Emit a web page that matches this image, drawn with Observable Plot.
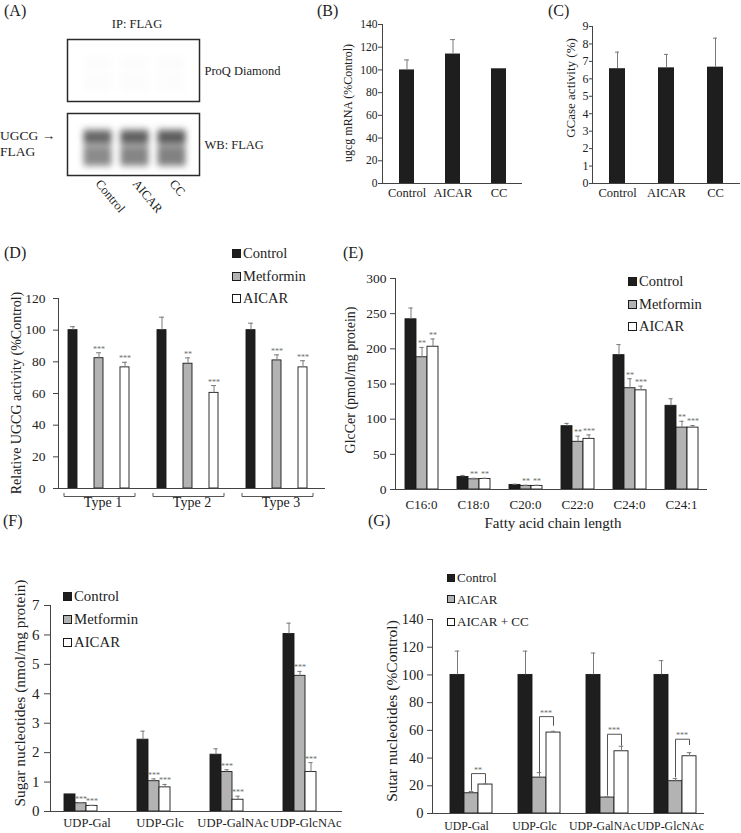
<!DOCTYPE html>
<html><head><meta charset="utf-8">
<script src="https://cdn.jsdelivr.net/npm/d3@7"></script>
<script src="https://cdn.jsdelivr.net/npm/@observablehq/plot@0.6"></script>
<style>
body{margin:0;background:#fff;}
#fig{position:relative;width:741px;height:833px;background:#fff;font-family:"Liberation Serif","Times New Roman",serif;color:#222;overflow:hidden}
svg{overflow:visible}
</style></head><body><div id="fig"></div>
<script>
// ================= DATA =================
// (A) blot
const lanes = ["Control", "AICAR", "CC"];
const blotRows = ["ProQ Diamond", "WB: FLAG"];
const laneSignal = [0.88, 0.93, 0.97];
const proqSignal = [0.008, 0.006, 0.008];
const bandNames = ["diffuse", "UGCG-FLAG", "lower smear"];
const bandFrom = [0.25, 0.3, 0.56];
const bandTo = [0.86, 0.48, 0.83];
const bandDensity = [0.42, 0.62, 0.3];

// (B)
const bCategories = ["Control", "AICAR", "CC"];
const bValues = [100, 114, 101];
const bErrors = [8.8, 12.7, 0];
const bTicks = [0, 20, 40, 60, 80, 100, 120, 140];

// (C)
const cCategories = ["Control", "AICAR", "CC"];
const cValues = [6.58, 6.63, 6.67];
const cErrors = [0.95, 0.77, 1.66];
const cTicks = [0, 1, 2, 3, 4, 5, 6, 7, 8, 9];

// (D)
const dGroups = ["Type 1", "Type 2", "Type 3"];
const dSeries = ["Control", "Metformin", "AICAR"];
const dControl = [100, 100, 100];
const dControlErr = [2.2, 8.2, 4.4];
const dMetformin = [82.3, 78.8, 80.9];
const dMetforminErr = [3.4, 3.7, 3.5];
const dAicar = [76.5, 60.4, 76.5];
const dAicarErr = [3.2, 4.6, 4.2];
const dMetforminSig = ["***", "**", "***"];
const dAicarSig = ["***", "***", "***"];
const dTicks = [0, 20, 40, 60, 80, 100, 120];

// (E)
const eGroups = ["C16:0", "C18:0", "C20:0", "C22:0", "C24:0", "C24:1"];
const eSeries = ["Control", "Metformin", "AICAR"];
const eControl = [242, 17.8, 6.5, 90, 191, 119];
const eControlErr = [16, 2.2, 1, 4, 15, 10];
const eMetformin = [188, 14.5, 5.1, 67.8, 144, 88];
const eMetforminErr = [14, 1.4, 0.9, 8, 13.5, 9];
const eAicar = [203, 15, 5.1, 72, 141, 88];
const eAicarErr = [11, 1, 0.9, 5.6, 6, 3];
const eMetforminSig = ["**", "**", "**", "**", "**", "**"];
const eAicarSig = ["**", "**", "**", "***", "***", "***"];
const eTicks = [0, 50, 100, 150, 200, 250, 300];

// (F)
const fGroups = ["UDP-Gal", "UDP-Glc", "UDP-GalNAc", "UDP-GlcNAc"];
const fSeries = ["Control", "Metformin", "AICAR"];
const fControl = [0.58, 2.44, 1.93, 6.03];
const fControlErr = [0.03, 0.29, 0.2, 0.37];
const fMetformin = [0.28, 1.03, 1.34, 4.61];
const fMetforminErr = [0.02, 0.08, 0.08, 0.15];
const fAicar = [0.19, 0.82, 0.40, 1.34];
const fAicarErr = [0.02, 0.1, 0.12, 0.32];
const fMetforminSig = ["***", "***", "***", "***"];
const fAicarSig = ["***", "***", "***", "***"];
const fTicks = [0, 1, 2, 3, 4, 5, 6, 7];

// (G)
const gGroups = ["UDP-Gal", "UDP-Glc", "UDP-GalNAc", "UDP-GlcNAc"];
const gSeries = ["Control", "AICAR", "AICAR + CC"];
const gControl = [100, 100, 100, 100];
const gControlErr = [17.2, 17.2, 15.8, 10.3];
const gAicar = [14.6, 25.9, 11.5, 23.3];
const gAicarErr = [1.3, 3.6, 0.7, 1.9];
const gAicarCC = [20.9, 58.4, 44.9, 41.3];
const gAicarCCErr = [0.5, 0.9, 3.6, 2.6];
const gBracketTop = [28.8, 69.9, 57.2, 53.6];
const gBracketLeft = [16.8, 30, 13.2, 26.4];
const gBracketRight = [22.1, 63.6, 49.2, 49.7];
const gBracketSig = ["**", "***", "***", "***"];
const gTicks = [0, 20, 40, 60, 80, 100, 120, 140];

// ================= HELPERS =================
const fig = document.getElementById("fig");
const FONT = "'Liberation Serif','Times New Roman',serif";
const BLACK = "#1e1e1e", GRAY = "#b3b3b3", WHITE = "#ffffff";
const ERR = "#7a7a7a", AXIS = "#444";

function addSvg(svg, left, top) {
  Object.assign(svg.style, {position: "absolute", left: left + "px", top: top + "px"});
  fig.appendChild(svg);
}
function txt(s, x, y, size, anchor = "start", rotate = 0) {
  const d = document.createElement("div");
  d.textContent = s;
  Object.assign(d.style, {position: "absolute", left: x + "px", top: y + "px", fontSize: size + "px",
    fontFamily: FONT, lineHeight: "1", whiteSpace: "nowrap", color: "#222"});
  const tx = anchor === "middle" ? "-50%" : anchor === "end" ? "-100%" : "0";
  d.style.transform = `translate(${tx},-50%)` + (rotate ? ` rotate(${rotate}deg)` : "");
  fig.appendChild(d);
}
function legend(series, colors, x, ys, size, sq) {
  series.forEach((s, i) => {
    const b = document.createElement("div");
    Object.assign(b.style, {position: "absolute", left: x + "px", top: (ys[i] - sq / 2 + 0.5) + "px",
      width: sq + "px", height: sq + "px", boxSizing: "border-box", border: "1px solid #1a1a1a", background: colors[i]});
    fig.appendChild(b);
    txt(s, x + sq + 2, ys[i], size);
  });
}
function style(size) {
  return {fontFamily: FONT, fontSize: size + "px", color: "#222", background: "transparent", overflow: "visible"};
}
const fmt = d => String(d);

function simpleBars(o) {
  const rows = o.cats.map((c, i) => ({c, v: o.values[i], e: o.errors[i]}));
  const err = rows.filter(d => d.e > 0);
  const inset = (o.barWidth - o.capWidth) / 2;
  return Plot.plot({
    width: o.width, height: o.height,
    marginLeft: o.ml, marginRight: o.mr, marginTop: o.mt, marginBottom: o.mb,
    x: {domain: o.cats, paddingInner: o.pi, paddingOuter: o.po},
    y: {domain: o.yDomain},
    style: style(o.tickFont),
    marks: [
      Plot.barY(rows, {x: "c", y1: 0, y2: "v", fill: BLACK}),
      Plot.ruleX(err, {x: "c", y1: "v", y2: d => d.v + d.e, stroke: ERR}),
      Plot.tickY(err, {x: "c", y: d => d.v + d.e, stroke: ERR, insetLeft: inset, insetRight: inset}),
      Plot.ruleY([0], {stroke: AXIS}),
      Plot.frame({anchor: "left", stroke: AXIS}),
      Plot.axisY({ticks: o.ticks, tickFormat: fmt, tickSize: o.tickSize, tickPadding: o.tickPadding, stroke: AXIS, label: null}),
      Plot.axisX({tickSize: 0, tickPadding: o.catPad, fontSize: o.catFont, label: null})
    ]
  });
}

function groupedBars(o) {
  const rows = [];
  o.groups.forEach((g, i) => o.series.forEach((s, j) => rows.push({
    g, s, v: o.values[j][i], e: o.errors[j][i], sig: o.sig[j] ? o.sig[j][i] : ""
  })));
  const err = rows.filter(d => d.e > 0);
  const inset = (o.barWidth - o.capWidth) / 2;
  return Plot.plot({
    width: o.width, height: o.height,
    marginLeft: o.ml, marginRight: o.mr, marginTop: o.mt, marginBottom: o.mb,
    fx: {domain: o.groups, paddingInner: 0, paddingOuter: 0, label: null},
    x: {domain: o.series, paddingInner: o.pi, paddingOuter: o.po, align: o.align, axis: null},
    y: {domain: o.yDomain},
    color: {domain: o.series, range: o.fills},
    style: style(o.tickFont),
    marks: [
      Plot.barY(rows, {fx: "g", x: "s", y1: 0, y2: "v", fill: "s", stroke: "#1a1a1a", strokeWidth: 0.9}),
      Plot.ruleX(err, {fx: "g", x: "s", y1: "v", y2: d => d.v + d.e, stroke: ERR}),
      Plot.tickY(err, {fx: "g", x: "s", y: d => d.v + d.e, stroke: ERR, insetLeft: inset, insetRight: inset}),
      Plot.text(rows.filter(d => d.sig), {fx: "g", x: "s", y: d => d.v + d.e, text: "sig",
        lineAnchor: "bottom", dy: -1, fontSize: 8, fill: "#6a6a6a"}),
      Plot.ruleY([0], {stroke: AXIS}),
      Plot.frame({anchor: "left", facetAnchor: "left", stroke: AXIS}),
      Plot.axisY({ticks: o.ticks, tickFormat: fmt, tickSize: o.tickSize, tickPadding: o.tickPadding, stroke: AXIS, label: null}),
      Plot.axisFx({anchor: "bottom", tickSize: 0, tickPadding: o.catPad, fontSize: o.catFont, label: null}),
      ...(o.extra || [])
    ]
  });
}

// ================= PANEL A =================
const blotSignal = [];
lanes.forEach((lane, i) => bandNames.forEach((b, k) => {
  blotSignal.push({lane, row: "WB: FLAG", from: bandFrom[k], to: bandTo[k], op: bandDensity[k] * laneSignal[i]});
  blotSignal.push({lane, row: "ProQ Diamond", from: bandFrom[k], to: bandTo[k], op: proqSignal[i]});
}));
addSvg(Plot.plot({
  width: 300, height: 230, marginLeft: 67, marginRight: 101, marginTop: 39, marginBottom: 54,
  x: {domain: lanes, paddingInner: 0.1, paddingOuter: 0.3, align: 0.58},
  y: {domain: [0, 1], reverse: true, axis: null},
  fy: {domain: blotRows, paddingInner: 0.16, paddingOuter: 0, label: null},
  opacity: {type: "identity"},
  style: style(12.5),
  marks: [
    Plot.barY(blotSignal, {fy: "row", x: "lane", y1: "from", y2: "to", fill: "#262626", fillOpacity: "op",
      insetLeft: 2.5, insetRight: 2.5, imageFilter: "blur(3px)"}),
    Plot.frame({stroke: "#2a2a2a", strokeWidth: 1.5}),
    Plot.axisFy({anchor: "right", tickSize: 0, tickPadding: 5, fontSize: 12.5, label: null}),
    Plot.axisX({anchor: "bottom", tickSize: 0, tickPadding: 6, tickRotate: 50, fontSize: 12.5, label: null})
  ]
}), 0, 0);
txt("(A)", 4, 11, 16);
txt("IP: FLAG", 137, 24, 12.5, "middle");
txt("UGCG \u2192", 0, 136, 13.5);
txt("FLAG", 0, 152, 13.5);

// ================= PANEL B =================
addSvg(simpleBars({
  cats: bCategories, values: bValues, errors: bErrors, yDomain: [0, 140], ticks: bTicks,
  width: 230, height: 215, ml: 82, mr: 8, mt: 24, mb: 32, pi: 0.68, po: 0.34,
  barWidth: 15, capWidth: 5, tickFont: 11.5, tickSize: 4, tickPadding: 1, catPad: 5, catFont: 12.5
}), 300, 0);
txt("(B)", 317, 11, 16);
txt("ugcg mRNA (%Control)", 348, 103, 12, "middle", -90);

// ================= PANEL C =================
addSvg(simpleBars({
  cats: cCategories, values: cValues, errors: cErrors, yDomain: [0, 9], ticks: cTicks,
  width: 201, height: 215, ml: 52, mr: 1, mt: 26, mb: 32, pi: 0.675, po: 0.3375,
  barWidth: 16, capWidth: 4, tickFont: 12, tickSize: 3, tickPadding: 1, catPad: 5, catFont: 12.5
}), 540, 0);
txt("(C)", 548, 11, 16);
txt("GCase activity (%)", 570, 88, 13, "middle", -90);

// ================= PANEL D =================
addSvg(groupedBars({
  groups: dGroups, series: dSeries,
  values: [dControl, dMetformin, dAicar], errors: [dControlErr, dMetforminErr, dAicarErr],
  sig: [null, dMetforminSig, dAicarSig], fills: [BLACK, GRAY, WHITE],
  yDomain: [0, 120], ticks: dTicks,
  width: 340, height: 300, ml: 58, mr: 15, mt: 68, mb: 42,
  pi: 0.66, po: 0.509, align: 0.35, barWidth: 9, capWidth: 5,
  tickFont: 13.5, tickSize: 5, tickPadding: 8, catPad: 9, catFont: 14,
  extra: [
    Plot.barY(dGroups, {fx: d => d, y1: 0, y2: 0, insetTop: 5, insetBottom: -8.5, insetLeft: 6, insetRight: 12,
      fill: "none", stroke: "#555", strokeDasharray: "0 71 200"})
  ]
}), 0, 230);
txt("(D)", 4, 253, 16);
txt("Relative UGCG activity (%Control)", 17, 393, 14, "middle", -90);
legend(dSeries, [BLACK, GRAY, WHITE], 232, [253, 276, 298], 14.5, 9);

// ================= PANEL E =================
addSvg(groupedBars({
  groups: eGroups, series: eSeries,
  values: [eControl, eMetformin, eAicar], errors: [eControlErr, eMetforminErr, eAicarErr],
  sig: [null, eMetforminSig, eAicarSig], fills: [BLACK, GRAY, WHITE],
  yDomain: [0, 300], ticks: eTicks,
  width: 401, height: 310, ml: 53, mr: 33, mt: 48, mb: 51,
  pi: 0, po: 0.74, align: 0.5, barWidth: 11.7, capWidth: 5,
  tickFont: 13.5, tickSize: 5, tickPadding: 4, catPad: 10, catFont: 13
}), 340, 230);
txt("(E)", 343, 253, 16);
txt("GlcCer (pmol/mg protein)", 351, 380, 14, "middle", -90);
txt("Fatty acid chain length", 553, 523, 15, "middle");
legend(eSeries, [BLACK, GRAY, WHITE], 628, [281, 303.5, 325.5], 14.5, 9);

// ================= PANEL F =================
addSvg(groupedBars({
  groups: fGroups, series: fSeries,
  values: [fControl, fMetformin, fAicar], errors: [fControlErr, fMetforminErr, fAicarErr],
  sig: [null, fMetforminSig, fAicarSig], fills: [BLACK, GRAY, WHITE],
  yDomain: [0, 7], ticks: fTicks,
  width: 360, height: 273, ml: 49, mr: 17, mt: 45, mb: 22,
  pi: 0, po: 1.64, align: 0.357, barWidth: 11.7, capWidth: 5,
  tickFont: 15, tickSize: 6, tickPadding: 5, catPad: 7, catFont: 12.6
}), 0, 560);
txt("(F)", 3, 521, 16);
txt("Sugar nucleotides (nmol/mg protein)", 20, 693, 15.4, "middle", -90);
legend(fSeries, [BLACK, GRAY, WHITE], 63, [596, 618.5, 641.5], 14.8, 9);

// ================= PANEL G =================
const gBracket = [];
gGroups.forEach((g, i) => {
  gBracket.push({g, s: "AICAR", y: gBracketLeft[i]}, {g, s: "AICAR", y: gBracketTop[i]},
    {g, s: "AICAR + CC", y: gBracketTop[i]}, {g, s: "AICAR + CC", y: gBracketRight[i]});
});
const gSigRows = gGroups.map((g, i) => ({g, s: "AICAR + CC", y: gBracketTop[i], t: gBracketSig[i]}));
addSvg(groupedBars({
  groups: gGroups, series: gSeries,
  values: [gControl, gAicar, gAicarCC], errors: [gControlErr, gAicarErr, gAicarCCErr],
  sig: [null, null, null], fills: [BLACK, GRAY, WHITE],
  yDomain: [0, 140], ticks: gTicks,
  width: 371, height: 273, ml: 61, mr: 37, mt: 59, mb: 20,
  pi: 0, po: 0.775, align: 0.69, barWidth: 15, capWidth: 5.5,
  tickFont: 14.5, tickSize: 5, tickPadding: 4, catPad: 8, catFont: 11.8,
  extra: [
    Plot.line(gBracket, {fx: "g", x: "s", y: "y", z: "g", stroke: "#555", strokeWidth: 1}),
    Plot.text(gSigRows, {fx: "g", x: "s", y: "y", text: "t", dx: -7.5, dy: -1, lineAnchor: "bottom",
      fontSize: 8, fill: "#6a6a6a"})
  ]
}), 370, 560);
txt("(G)", 368, 521, 16);
txt("Sutar nucleotides (%Control)", 392, 711, 15.5, "middle", -90);
legend(gSeries, [BLACK, GRAY, WHITE], 447, [577, 598.5, 621], 13, 8);
</script></body></html>
